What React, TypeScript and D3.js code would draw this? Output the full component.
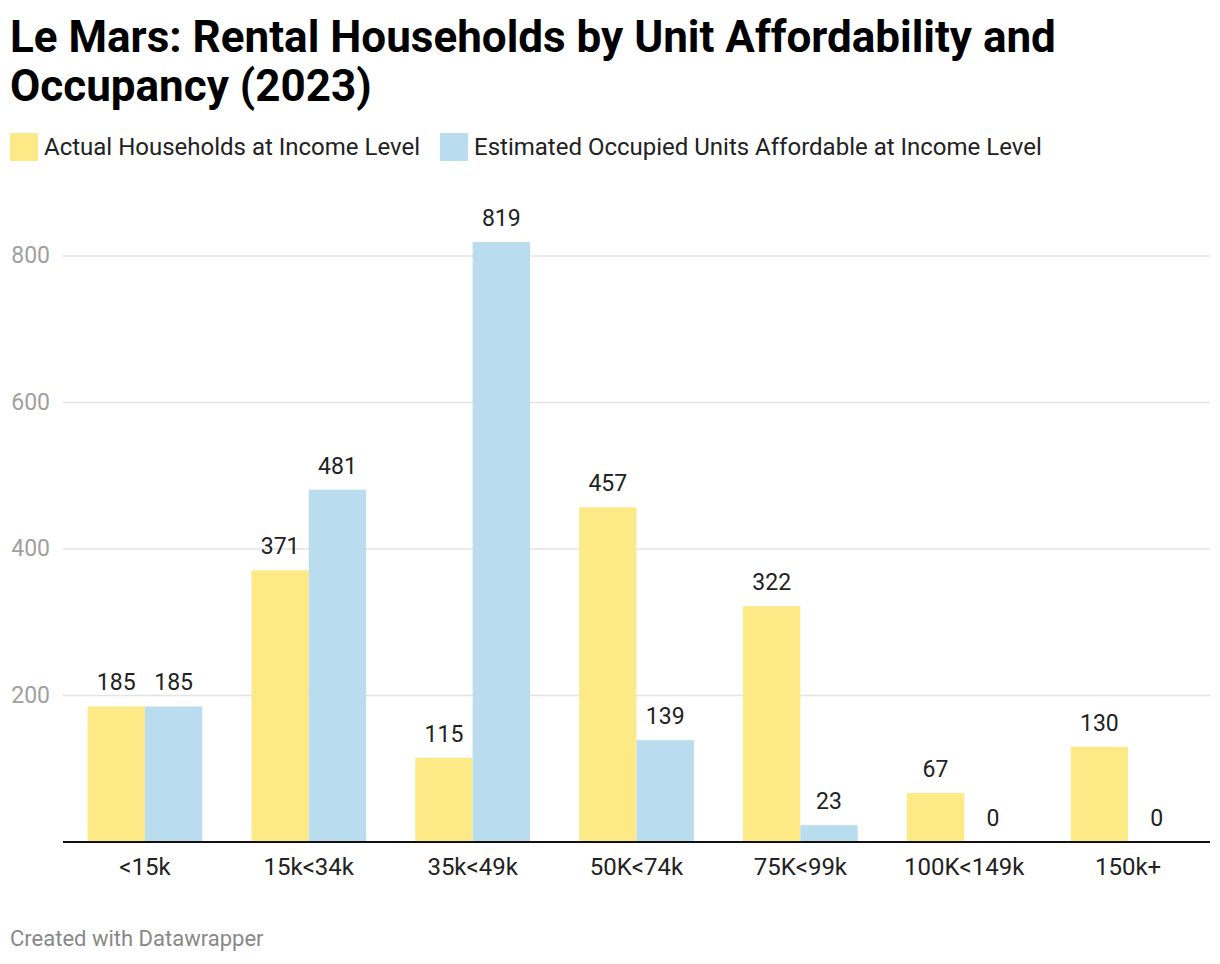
import React, { useEffect, useRef } from 'react';
import * as d3 from 'd3';

const categories = ['<15k', '15k<34k', '35k<49k', '50K<74k', '75K<99k', '100K<149k', '150k+'];
const actualHouseholds = [185, 371, 115, 457, 322, 67, 130];
const affordableUnits = [185, 481, 819, 139, 23, 0, 0];
const seriesNames = ['Actual Households at Income Level', 'Estimated Occupied Units Affordable at Income Level'];
const seriesColors = ['#fee987', '#b9ddee'];
const yTicks = [200, 400, 600, 800];

const W = 1220;
const H = 964;
const FONT = 'Roboto, "Noto Sans", sans-serif';

const App = () => {
  const ref = useRef<SVGSVGElement>(null);

  useEffect(() => {
    const svg = d3.select(ref.current);
    svg.selectAll('*').remove();

    const left = 63;
    const right = 1210;
    const baseline = 842;

    const x = d3.scaleBand().domain(categories).range([left, right]).paddingInner(0.3).paddingOuter(0.15);
    const x1 = d3.scaleBand().domain(['a', 'b']).range([0, x.bandwidth()]);
    const y = d3.scaleLinear().domain([0, 800]).range([baseline, 256]);

    // title
    const title = svg.append('text').attr('font-family', FONT).attr('font-weight', 700)
      .attr('font-size', 44).attr('fill', '#000');
    title.append('tspan').attr('x', 10).attr('y', 52).text('Le Mars: Rental Households by Unit Affordability and');
    title.append('tspan').attr('x', 10).attr('y', 101).text('Occupancy (2023)');

    // legend
    const legendX = [10, 440];
    seriesNames.forEach((name, i) => {
      svg.append('rect').attr('x', legendX[i]).attr('y', 133).attr('width', 28).attr('height', 28)
        .attr('fill', seriesColors[i]);
      svg.append('text').attr('x', legendX[i] + 34).attr('y', 155).attr('font-family', FONT)
        .attr('font-size', 24).attr('fill', '#222').text(name);
    });

    // grid
    svg.selectAll('.grid').data(yTicks).enter().append('line')
      .attr('x1', left).attr('x2', right)
      .attr('y1', (d) => y(d)).attr('y2', (d) => y(d))
      .attr('stroke', '#e3e3e3').attr('stroke-width', 1.5);

    svg.selectAll('.ytick').data(yTicks).enter().append('text')
      .attr('x', 50).attr('y', (d) => y(d) + 7).attr('text-anchor', 'end')
      .attr('font-family', FONT).attr('font-size', 23).attr('fill', '#a0a0a0')
      .text((d) => d);

    // bars
    const series = [actualHouseholds, affordableUnits];
    series.forEach((vals, si) => {
      const key = si === 0 ? 'a' : 'b';
      const g = svg.append('g');
      g.selectAll('rect').data(vals).enter().append('rect')
        .attr('x', (d, i) => (x(categories[i]) || 0) + (x1(key) || 0))
        .attr('width', x1.bandwidth())
        .attr('y', (d) => y(d))
        .attr('height', (d) => baseline - y(d))
        .attr('fill', seriesColors[si]);
      g.selectAll('text').data(vals).enter().append('text')
        .attr('x', (d, i) => (x(categories[i]) || 0) + (x1(key) || 0) + x1.bandwidth() / 2)
        .attr('y', (d) => y(d) - 16)
        .attr('text-anchor', 'middle')
        .attr('font-family', FONT).attr('font-size', 23).attr('fill', '#222')
        .text((d) => d);
    });

    // baseline
    svg.append('line').attr('x1', left).attr('x2', right).attr('y1', baseline).attr('y2', baseline)
      .attr('stroke', '#111').attr('stroke-width', 2);

    // x labels
    svg.selectAll('.xlab').data(categories).enter().append('text')
      .attr('x', (d) => (x(d) || 0) + x.bandwidth() / 2)
      .attr('y', 875).attr('text-anchor', 'middle')
      .attr('font-family', FONT).attr('font-size', 24).attr('fill', '#222')
      .text((d) => d);

    // footer
    svg.append('text').attr('x', 10).attr('y', 946).attr('font-family', FONT)
      .attr('font-size', 22).attr('fill', '#888').text('Created with Datawrapper');
  });

  return (
    <svg ref={ref} width={W} height={H}
      style={{ position: 'absolute', left: 0, top: 0, background: '#fff' }} />
  );
};

export default App;
